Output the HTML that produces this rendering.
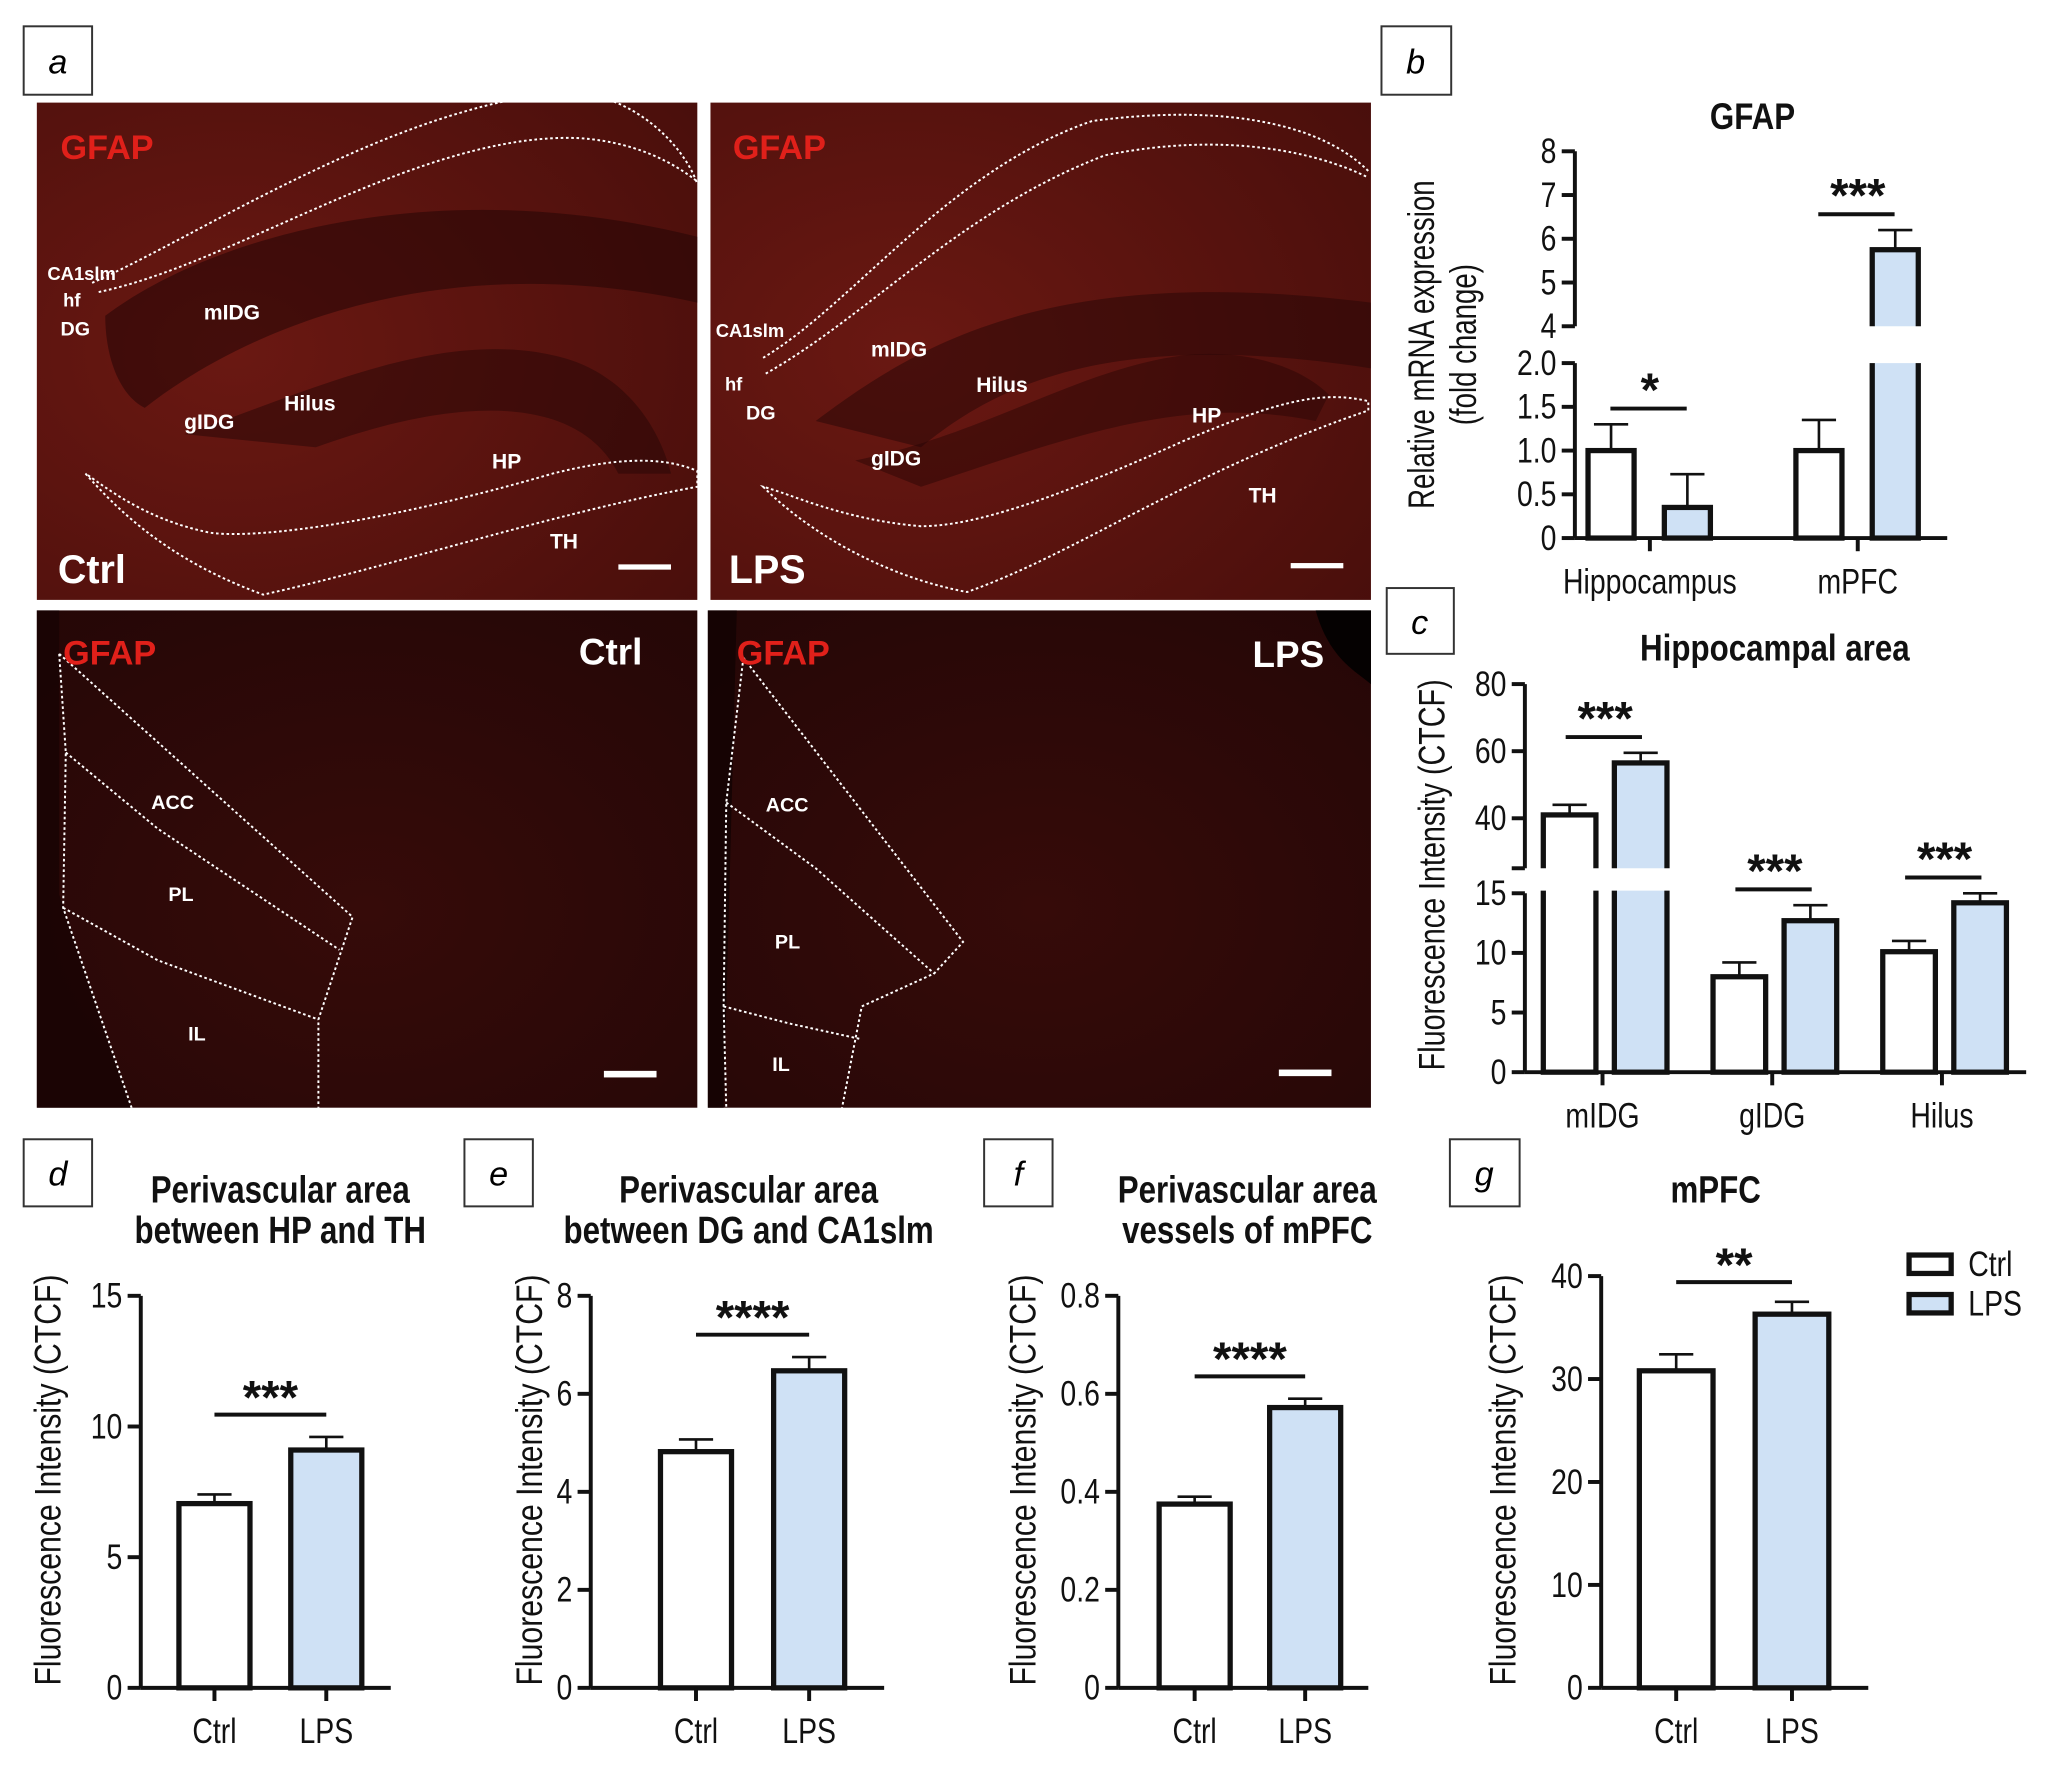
<!DOCTYPE html>
<html><head><meta charset="utf-8"><style>
html,body{margin:0;padding:0;background:#fff;}
svg{display:block;}
text{font-family:"Liberation Sans",sans-serif;}
</style></head><body>
<svg id="fig" width="2063" height="1776" viewBox="0 0 1568 1350" preserveAspectRatio="none" xmlns="http://www.w3.org/2000/svg">
<defs>
<radialGradient id="gt" cx="0.3" cy="0.5" r="0.9"><stop offset="0" stop-color="#6a1812"/><stop offset="1" stop-color="#480e0b"/></radialGradient>
<radialGradient id="gb" cx="0.5" cy="0.6" r="0.9"><stop offset="0" stop-color="#360b09"/><stop offset="1" stop-color="#220606"/></radialGradient>
</defs>
<g>
<rect x="18" y="20" width="52" height="52" fill="#fff" stroke="#333" stroke-width="1.5"/>
<text x="44" y="56" font-size="26" font-style="italic" text-anchor="middle">a</text>

<g>
<rect x="28" y="78" width="502" height="378" fill="url(#gt)"/>
<path d="M80 240 C160 180 330 130 530 180 L530 230 C350 190 200 240 110 310 C90 300 80 270 80 240Z" fill="#250505" opacity="0.55"/>
<path d="M140 330 C230 300 330 250 420 270 C470 280 500 320 510 360 L470 360 C440 300 350 300 240 340Z" fill="#250505" opacity="0.5"/>
<path d="M70 215 C150 180 300 80 430 70 C480 70 520 110 530 140 M75 222 C180 200 320 100 440 105 C490 108 520 130 530 138" fill="none" stroke="#fff" stroke-width="1.5" stroke-dasharray="2 2"/>
<path d="M65 360 C100 400 140 430 200 452 C300 430 420 390 530 370 L530 358 C500 345 460 350 420 360 C300 395 200 410 160 405 C110 395 80 370 65 360Z" fill="none" stroke="#fff" stroke-width="1.5" stroke-dasharray="2 2"/>
<text x="46" y="121" font-size="26" font-weight="bold" fill="#e0201a">GFAP</text>
<text x="36" y="213" font-size="14" font-weight="bold" fill="#fff">CA1slm</text>
<text x="48" y="233" font-size="14" font-weight="bold" fill="#fff">hf</text>
<text x="46" y="255" font-size="15" font-weight="bold" fill="#fff">DG</text>
<text x="155" y="243" font-size="16" font-weight="bold" fill="#fff">mIDG</text>
<text x="140" y="326" font-size="16" font-weight="bold" fill="#fff">gIDG</text>
<text x="216" y="312" font-size="16" font-weight="bold" fill="#fff">Hilus</text>
<text x="374" y="356" font-size="16" font-weight="bold" fill="#fff">HP</text>
<text x="418" y="417" font-size="16" font-weight="bold" fill="#fff">TH</text>
<text x="44" y="443" font-size="30" font-weight="bold" fill="#fff">Ctrl</text>
<rect x="470" y="429" width="40" height="4" fill="#fff"/>
</g>

<g>
<rect x="540" y="78" width="502" height="378" fill="url(#gt)"/>
<path d="M620 320 C700 260 800 200 1042 230 L1042 280 C850 250 760 290 700 340 Z" fill="#250505" opacity="0.5"/>
<path d="M650 350 C750 330 820 280 900 270 C950 265 990 280 1010 300 L1000 320 C900 300 820 330 700 370Z" fill="#250505" opacity="0.45"/>
<path d="M580 272 C650 230 720 130 830 92 C920 80 1000 90 1040 130 M582 284 C660 240 730 160 840 118 C930 100 1000 115 1040 135" fill="none" stroke="#fff" stroke-width="1.5" stroke-dasharray="2 2"/>
<path d="M580 370 C620 410 680 440 735 450 C820 420 900 360 1040 312 L1040 305 C1000 295 960 310 900 335 C800 380 740 400 700 400 C640 395 600 375 580 370Z" fill="none" stroke="#fff" stroke-width="1.5" stroke-dasharray="2 2"/>
<text x="557" y="121" font-size="26" font-weight="bold" fill="#e0201a">GFAP</text>
<text x="544" y="256" font-size="14" font-weight="bold" fill="#fff">CA1slm</text>
<text x="551" y="297" font-size="14" font-weight="bold" fill="#fff">hf</text>
<text x="567" y="319" font-size="15" font-weight="bold" fill="#fff">DG</text>
<text x="662" y="271" font-size="16" font-weight="bold" fill="#fff">mIDG</text>
<text x="742" y="298" font-size="16" font-weight="bold" fill="#fff">Hilus</text>
<text x="662" y="354" font-size="16" font-weight="bold" fill="#fff">gIDG</text>
<text x="906" y="321" font-size="16" font-weight="bold" fill="#fff">HP</text>
<text x="949" y="382" font-size="16" font-weight="bold" fill="#fff">TH</text>
<text x="554" y="443" font-size="30" font-weight="bold" fill="#fff">LPS</text>
<rect x="981" y="428" width="40" height="4" fill="#fff"/>
</g>

<g>
<rect x="28" y="464" width="502" height="378" fill="url(#gb)"/>
<path d="M28 464 L45 464 L45 680 L100 842 L28 842Z" fill="#150303" opacity="0.7"/>
<path d="M45 497 L268 697 L242 775 L242 842 M45 497 L50 572 L48 690 L100 842 M50 572 L120 630 L258 722 M48 690 L120 730 L242 775" fill="none" stroke="#fff" stroke-width="1.5" stroke-dasharray="2 2"/>
<text x="48" y="505" font-size="26" font-weight="bold" fill="#e0201a">GFAP</text>
<text x="440" y="505" font-size="28" font-weight="bold" fill="#fff">Ctrl</text>
<text x="115" y="615" font-size="15" font-weight="bold" fill="#fff">ACC</text>
<text x="128" y="685" font-size="15" font-weight="bold" fill="#fff">PL</text>
<text x="143" y="791" font-size="15" font-weight="bold" fill="#fff">IL</text>
<rect x="459" y="814" width="40" height="5" fill="#fff"/>
</g>

<g>
<rect x="538" y="464" width="504" height="378" fill="url(#gb)"/>
<path d="M538 464 L560 464 L550 842 L538 842Z" fill="#120303" opacity="0.8"/>
<path d="M1000 464 L1042 464 L1042 520 C1030 510 1010 500 1000 464Z" fill="#050101"/>
<path d="M565 500 L732 716 L710 740 L655 765 L640 842 M565 500 L552 610 L550 765 L552 842 M552 610 L620 660 L710 740 M550 765 L600 778 L655 790" fill="none" stroke="#fff" stroke-width="1.5" stroke-dasharray="2 2"/>
<text x="560" y="505" font-size="26" font-weight="bold" fill="#e0201a">GFAP</text>
<text x="952" y="507" font-size="28" font-weight="bold" fill="#fff">LPS</text>
<text x="582" y="617" font-size="15" font-weight="bold" fill="#fff">ACC</text>
<text x="589" y="721" font-size="15" font-weight="bold" fill="#fff">PL</text>
<text x="587" y="814" font-size="15" font-weight="bold" fill="#fff">IL</text>
<rect x="972" y="813" width="40" height="5" fill="#fff"/>
</g>
</g>

<g>
<rect x="1050" y="20" width="53" height="52" fill="#fff" stroke="#333" stroke-width="1.5"/>
<text x="1076" y="56" font-size="26" font-style="italic" text-anchor="middle">b</text>
<rect x="1054" y="447" width="51" height="50" fill="#fff" stroke="#333" stroke-width="1.5"/>
<text x="1079" y="482" font-size="26" font-style="italic" text-anchor="middle">c</text>
<rect x="18" y="866" width="52" height="51" fill="#fff" stroke="#333" stroke-width="1.5"/>
<text x="44" y="901" font-size="26" font-style="italic" text-anchor="middle">d</text>
<rect x="353" y="866" width="52" height="51" fill="#fff" stroke="#333" stroke-width="1.5"/>
<text x="379" y="901" font-size="26" font-style="italic" text-anchor="middle">e</text>
<rect x="748" y="866" width="52" height="51" fill="#fff" stroke="#333" stroke-width="1.5"/>
<text x="774" y="901" font-size="26" font-style="italic" text-anchor="middle">f</text>
<rect x="1102" y="866" width="53" height="51" fill="#fff" stroke="#333" stroke-width="1.5"/>
<text x="1128" y="901" font-size="26" font-style="italic" text-anchor="middle">g</text>
</g>
<g id="charts"></g>
</svg>
<script>
// panel b
const bCategories = ["Hippocampus", "mPFC"];
const bCtrl = [1.0, 1.0];
const bCtrlErr = [1.3, 1.35];
const bLps = [0.35, 5.75];
const bLpsErr = [0.73, 6.2];
const bSig = ["*", "***"];
const bLowTicks = ["0", "0.5", "1.0", "1.5", "2.0"];
const bHighTicks = ["4", "5", "6", "7", "8"];
// panel c
const cCategories = ["mIDG", "gIDG", "Hilus"];
const cCtrl = [41, 8, 10.1];
const cCtrlErr = [44, 9.2, 11];
const cLps = [56.5, 12.7, 14.2];
const cLpsErr = [59.5, 14, 15];
const cSig = ["***", "***", "***"];
const cLowTicks = ["0", "5", "10", "15"];
const cHighTicks = ["40", "60", "80"];
// panels d-g
const dValues = [7.05, 9.1];
const dErrors = [7.4, 9.6];
const dTicks = ["0", "5", "10", "15"];
const eValues = [4.82, 6.47];
const eErrors = [5.07, 6.75];
const eTicks = ["0", "2", "4", "6", "8"];
const fValues = [0.375, 0.572];
const fErrors = [0.39, 0.59];
const fTicks = ["0", "0.2", "0.4", "0.6", "0.8"];
const gValues = [30.8, 36.3];
const gErrors = [32.4, 37.5];
const gTicks = ["0", "10", "20", "30", "40"];
const groupLabels = ["Ctrl", "LPS"];

const NS = "http://www.w3.org/2000/svg";
const root = document.getElementById("charts");
const BLUE = "#cfe1f5";
const TICK = 27;
function el(tag, attrs, parent) {
  const e = document.createElementNS(NS, tag);
  for (const k in attrs) e.setAttribute(k, attrs[k]);
  (parent || root).appendChild(e);
  return e;
}
function txt(x, y, s, size, parent, opts) {
  opts = opts || {};
  const t = el("text", {
    transform: "translate(" + x + "," + y + ")" + (opts.rot ? " rotate(-90)" : "") + " scale(" + (opts.sx || 0.8) + ",1)",
    "font-size": size, "text-anchor": opts.anchor || "middle",
    "font-weight": opts.bold ? "bold" : "normal", fill: "#111"
  }, parent);
  t.textContent = s;
  return t;
}
function line(x1, y1, x2, y2, w, parent) {
  return el("line", {x1: x1, y1: y1, x2: x2, y2: y2, stroke: "#111", "stroke-width": w}, parent);
}
function bar(x, w, yTop, yBot, fill, errY, parent) {
  line(x + w / 2, errY, x + w / 2, yTop, 2, parent);
  line(x + w / 2 - 13, errY, x + w / 2 + 13, errY, 2, parent);
  return el("rect", {x: x, y: yTop, width: w, height: yBot - yTop, fill: fill, stroke: "#111", "stroke-width": 4}, parent);
}

(function () {
  const g = el("g", {});
  
  
  const ax = 1197, low0 = 409, low2 = 276, hi4 = 248, hi8 = 115;
  const yb = v => v <= 2 ? low0 - v / 2 * (low0 - low2) : hi4 - (v - 4) / 4 * (hi4 - hi8);
  txt(1332, 98, "GFAP", 28, g, {bold: true, sx: 0.85});
  line(ax, low0, ax, low2, 3, g); line(ax, hi4, ax, hi8, 3, g);
  bLowTicks.forEach(t => { const y = yb(+t); line(ax - 10, y, ax, y, 3, g); txt(ax - 14, y + 9, t, TICK, g, {anchor: "end"}); });
  bHighTicks.forEach(t => { const y = yb(+t); line(ax - 10, y, ax, y, 3, g); txt(ax - 14, y + 9, t, TICK, g, {anchor: "end"}); });
  line(ax, low0, 1480, low0, 3, g);
  const centers = [1254, 1412];
  bCategories.forEach((c, i) => {
    const cx = centers[i];
    const gg = el("g", {}, g);
    
    
    const draw = (x, v, e, fill) => {
      bar(x, 35, yb(v), low0, fill, yb(e), gg);
      if (v > 2) el("rect", {x: x - 3, y: hi4, width: 41, height: low2 - hi4, fill: "#fff"}, gg);
    };
    draw(cx - 47, bCtrl[i], bCtrlErr[i], "#fff");
    draw(cx + 11, bLps[i], bLpsErr[i], BLUE);
    line(cx, low0, cx, low0 + 10, 3, g);
    txt(cx, low0 + 42, c, TICK, g);
    const sy = yb(Math.max(bCtrlErr[i], bLpsErr[i])) - 12;
    line(cx - 30, sy, cx + 28, sy, 3, g);
    txt(cx, sy - 2, bSig[i], 36, g, {bold: true, sx: 1});
  });
  txt(1090, 262, "Relative mRNA expression", 28, g, {rot: true, sx: 0.75});
  txt(1122, 262, "(fold change)", 28, g, {rot: true, sx: 0.75});
})();

(function () {
  const g = el("g", {});
  
  
  const ax = 1159, y0 = 815, y15 = 679, y40 = 622, y80 = 520, gapTop = 660;
  const yc = v => v <= 15 ? y0 - v / 15 * (y0 - y15) : y40 - (v - 40) / 40 * (y40 - y80);
  txt(1349, 502, "Hippocampal area", 28, g, {bold: true, sx: 0.85});
  line(ax, y0, ax, y15, 3, g); line(ax, gapTop, ax, y80, 3, g);
  cLowTicks.forEach(t => { const y = yc(+t); line(ax - 10, y, ax, y, 3, g); txt(ax - 14, y + 9, t, TICK, g, {anchor: "end"}); });
  cHighTicks.forEach(t => { const y = yc(+t); line(ax - 10, y, ax, y, 3, g); txt(ax - 14, y + 9, t, TICK, g, {anchor: "end"}); });
  line(ax - 10, gapTop, ax, gapTop, 3, g);
  line(ax, y0, 1540, y0, 3, g);
  const centers = [1220, 1349, 1478];
  cCategories.forEach((c, i) => {
    const cx = centers[i];
    const gg = el("g", {}, g);
    
    
    const draw = (x, v, e, fill) => {
      bar(x, 40, yc(v), y0, fill, yc(e), gg);
      if (v > 15) el("rect", {x: x - 3, y: gapTop, width: 46, height: y15 - gapTop - 2, fill: "#fff"}, gg);
    };
    draw(cx - 47, cCtrl[i], cCtrlErr[i], "#fff");
    draw(cx + 7, cLps[i], cLpsErr[i], BLUE);
    line(cx - 2, y0, cx - 2, y0 + 10, 3, g);
    txt(cx - 2, y0 + 42, c, TICK, g);
    const sy = yc(Math.max(cCtrlErr[i], cLpsErr[i])) - 12;
    line(cx - 30, sy, cx + 28, sy, 3, g);
    txt(cx, sy - 2, cSig[i], 36, g, {bold: true, sx: 1});
  });
  txt(1098, 665, "Fluorescence Intensity (CTCF)", 28, g, {rot: true, sx: 0.78});
})();

function simpleChart(name, values, errs, ticks, cfg) {
  const g = el("g", {});
  
  
  const max = +ticks[ticks.length - 1];
  const y = v => cfg.y0 - v / max * (cfg.y0 - cfg.yTop);
  cfg.title.forEach((t, i) => txt(cfg.tx, 914 + i * 31, t, 29, g, {bold: true, sx: 0.82}));
  line(cfg.ax, cfg.y0, cfg.ax, cfg.yTop, 3, g);
  line(cfg.ax, cfg.y0, cfg.axEnd, cfg.y0, 3, g);
  ticks.forEach(t => { const yy = y(+t); line(cfg.ax - 10, yy, cfg.ax, yy, 3, g); txt(cfg.ax - 14, yy + 9, t, TICK, g, {anchor: "end"}); });
  groupLabels.forEach((lab, i) => {
    const cx = cfg.cx[i];
    const b = bar(cx - cfg.bw / 2, cfg.bw, y(values[i]), cfg.y0, i ? BLUE : "#fff", y(errs[i]), g);
    
    
    line(cx, cfg.y0, cx, cfg.y0 + 10, 3, g);
    txt(cx, cfg.y0 + 42, lab, TICK, g);
  });
  const sy = y(Math.max(errs[0], errs[1])) - cfg.sigGap;
  line(cfg.cx[0], sy, cfg.cx[1], sy, 3, g);
  txt((cfg.cx[0] + cfg.cx[1]) / 2, sy - 1, cfg.sig, 36, g, {bold: true, sx: 1});
  txt(cfg.ylx, 1125, "Fluorescence Intensity (CTCF)", 28, g, {rot: true, sx: 0.82});
}
simpleChart("chart-d-hp-th", dValues, dErrors, dTicks, {tx: 213, title: ["Perivascular area", "between HP and TH"], ax: 107, axEnd: 297, y0: 1283, yTop: 985, cx: [163, 248], bw: 54, sig: "***", sigGap: 17, ylx: 46});
simpleChart("chart-e-dg-ca1slm", eValues, eErrors, eTicks, {tx: 569, title: ["Perivascular area", "between DG and CA1slm"], ax: 449, axEnd: 672, y0: 1283, yTop: 985, cx: [529, 615], bw: 54, sig: "****", sigGap: 17, ylx: 412});
simpleChart("chart-f-vessels-mpfc", fValues, fErrors, fTicks, {tx: 948, title: ["Perivascular area", "vessels of mPFC"], ax: 850, axEnd: 1040, y0: 1283, yTop: 985, cx: [908, 992], bw: 54, sig: "****", sigGap: 17, ylx: 787});
simpleChart("chart-g-mpfc", gValues, gErrors, gTicks, {tx: 1304, title: ["mPFC"], ax: 1217, axEnd: 1420, y0: 1283, yTop: 970, cx: [1274, 1362], bw: 56, sig: "**", sigGap: 15, ylx: 1152});

const lg = el("g", {});


groupLabels.forEach((lab, i) => {
  const e1 = el("rect", {x: 1451, y: 954 + i * 30, width: 32, height: 14, fill: i ? BLUE : "#fff", stroke: "#111", "stroke-width": 4}, lg);
  
  
  const t = txt(1496, 970 + i * 30, lab, TICK, lg, {anchor: "start"});
  
  
});
</script>
</body></html>
